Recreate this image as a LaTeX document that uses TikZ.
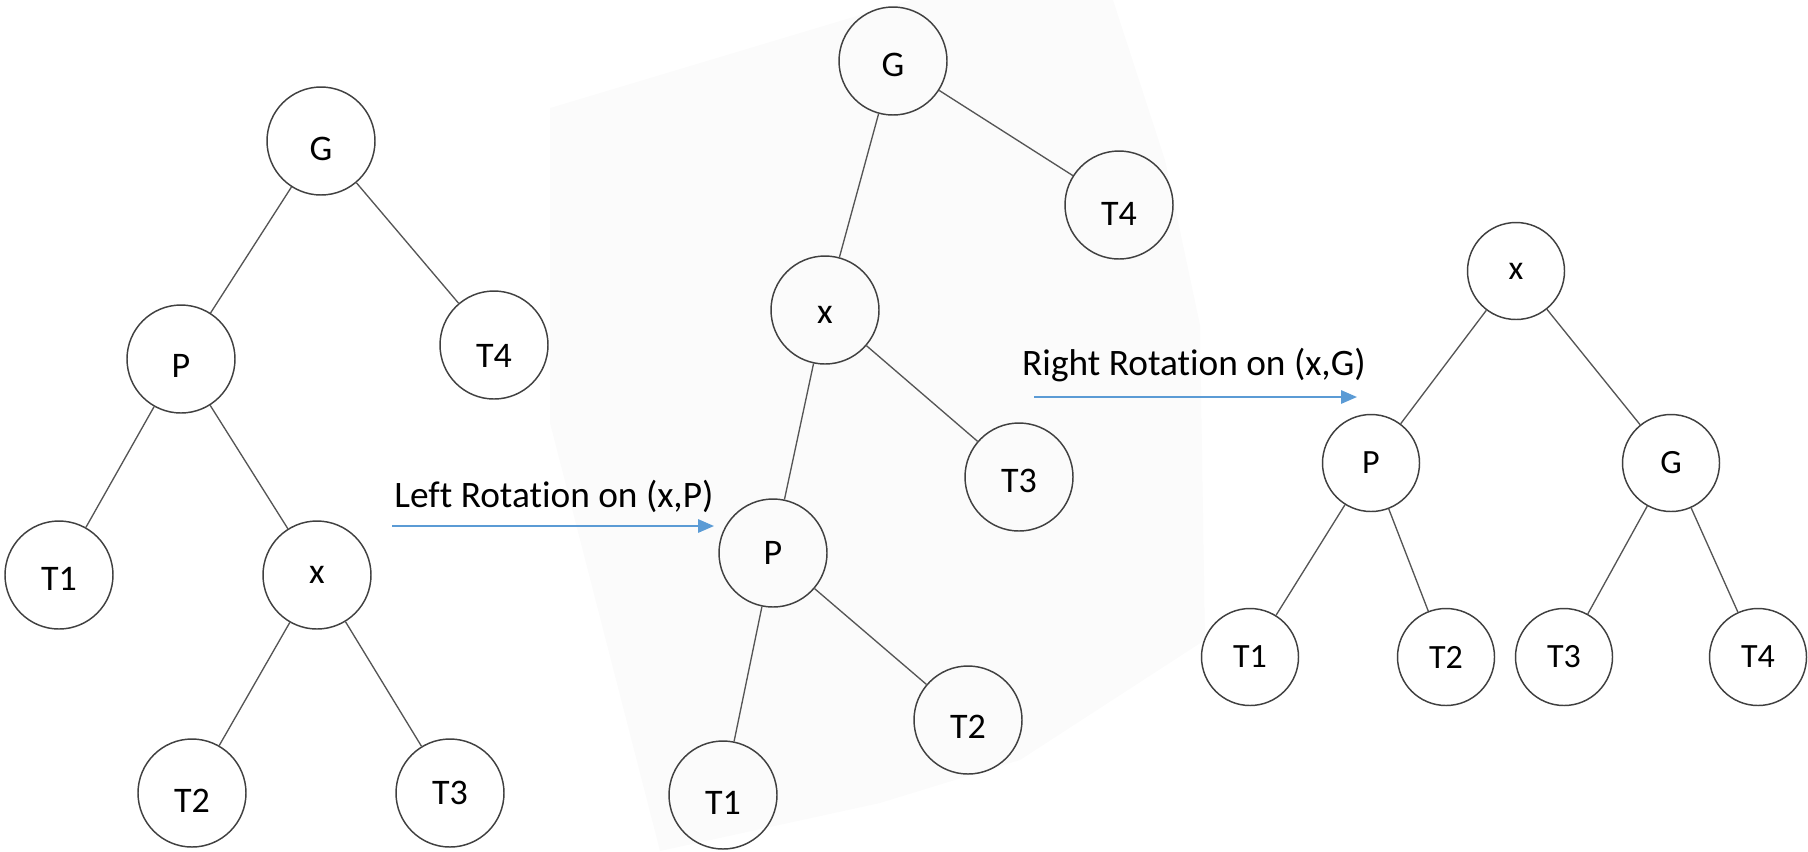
\documentclass[tikz,border=0pt]{standalone}
\usepackage{fontspec}
\setmainfont{Carlito}[Ligatures=NoCommon]
\usetikzlibrary{arrows.meta}
\definecolor{arrowblue}{RGB}{91,155,213}
\definecolor{circgray}{RGB}{64,64,64}
\definecolor{linkgray}{RGB}{85,85,85}
\definecolor{bggray}{RGB}{251,251,251}
\newcommand\lbl[2]{\raisebox{#1}[\height][\depth]{#2}}
\begin{document}
\begin{tikzpicture}[x=0.75pt,y=-0.75pt,
  tnode/.style={circle,draw=circgray,line width=1.1pt,inner sep=0pt,minimum size=81pt,font=\fontsize{27}{32}\selectfont},
  snode/.style={tnode,minimum size=72.75pt,font=\fontsize{25.5}{30}\selectfont},
  link/.style={draw=linkgray,line width=1pt},
  rot/.style={draw=arrowblue,line width=1.5pt,-{Triangle[length=12pt,width=10pt]}},
  caption/.style={font=\fontsize{28}{33}\selectfont,anchor=base,inner sep=0pt}]
\useasboundingbox (0,0) rectangle (1808,851);
% faint background of the middle picture
\fill[bggray] (550,108) -- (910,0) -- (1113,0) -- (1165,160) -- (1200,325) -- (1205,640) -- (1020,760) -- (880,803) -- (660,851) -- (550,423) -- cycle;

% left tree
\node[tnode] (lG)  at (321,141) {\lbl{-6pt}{G}};
\node[tnode] (lP)  at (181,359) {\lbl{-5pt}{P}};
\node[tnode] (lT4) at (494,345) {\lbl{-8pt}{T4}};
\node[tnode] (lT1) at (59,575)  {\lbl{-3pt}{T1}};
\node[tnode] (lx)  at (317,575) {x};
\node[tnode] (lT2) at (192,793) {\lbl{-6pt}{T2}};
\node[tnode] (lT3) at (450,793) {T3};
\draw[link] (lG) -- (lP);
\draw[link] (lG) -- (lT4);
\draw[link] (lP) -- (lT1);
\draw[link] (lP) -- (lx);
\draw[link] (lx) -- (lT2);
\draw[link] (lx) -- (lT3);

% middle tree
\node[tnode] (mG)  at (893,61)  {\lbl{-3pt}{G}};
\node[tnode] (mT4) at (1119,205) {\lbl{-7pt}{T4}};
\node[tnode] (mx)  at (825,310) {\lbl{-4pt}{x}};
\node[tnode] (mT3) at (1019,477) {\lbl{-3pt}{T3}};
\node[tnode] (mP)  at (773,553) {P};
\node[tnode] (mT2) at (968,720) {\lbl{-5pt}{T2}};
\node[tnode] (mT1) at (723,795) {\lbl{-6pt}{T1}};
\draw[link] (mG) -- (mx);
\draw[link] (mG) -- (mT4);
\draw[link] (mx) -- (mP);
\draw[link] (mx) -- (mT3);
\draw[link] (mP) -- (mT1);
\draw[link] (mP) -- (mT2);

% right tree
\node[snode] (rx)  at (1516,271) {x};
\node[snode] (rP)  at (1371,463) {P};
\node[snode] (rG)  at (1671,463) {G};
\node[snode] (rT1) at (1250,657) {T1};
\node[snode] (rT2) at (1446,657) {T2};
\node[snode] (rT3) at (1564,657) {T3};
\node[snode] (rT4) at (1758,657) {T4};
\draw[link] (rx) -- (rP);
\draw[link] (rx) -- (rG);
\draw[link] (rP) -- (rT1);
\draw[link] (rP) -- (rT2);
\draw[link] (rG) -- (rT3);
\draw[link] (rG) -- (rT4);

% rotation arrows
\coordinate (a1s) at (392,526);
\coordinate (a1e) at (714,526);
\draw[rot] (a1s) -- (a1e);
\node[caption] (t1) at (554,507) {Left Rotation on (x,P)};
\coordinate (a2s) at (1034,397);
\coordinate (a2e) at (1357,397);
\draw[rot] (a2s) -- (a2e);
\node[caption] (t2) at (1194,375) {Right Rotation on (x,G)};
\end{tikzpicture}
\end{document}
